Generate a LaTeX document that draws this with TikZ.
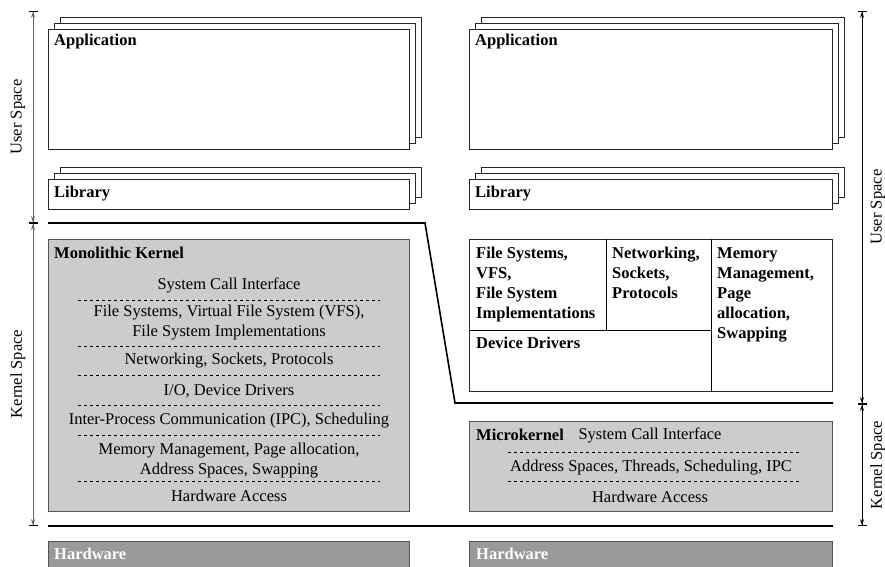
\documentclass[tikz,border=0pt]{standalone}
\usepackage{fontspec}
\setmainfont{Liberation Serif}
\usetikzlibrary{positioning,arrows.meta}
\definecolor{kernelgray}{HTML}{CCCCCC}
\definecolor{hwgray}{HTML}{9A9A9A}
\definecolor{framegray}{HTML}{555555}
\begin{document}
\begin{tikzpicture}[
    x=1pt, y=-1pt,
    font=\fontsize{16.5}{20}\selectfont,
    stackbox/.style={draw=black!85, fill=white, line width=0.8pt},
    kernelbox/.style={draw=framegray, fill=kernelgray, line width=0.8pt},
    hwbox/.style={draw=framegray, fill=hwgray, line width=0.8pt},
    title/.style={font=\fontsize{16.5}{20}\selectfont\bfseries, inner sep=0pt},
    layer/.style={align=center, inner sep=0pt},
    sep/.style={dashed, line width=0.6pt},
    barrier/.style={line width=1.6pt},
    span/.style={{Bar[width=9pt,black]Stealth[length=6pt,width=4pt]}-{Stealth[length=6pt,width=4pt]Bar[width=9pt,black]}, line width=0.8pt},
    spanlabel/.style={rotate=90, inner sep=0pt}
    ]
\useasboundingbox (0,0) rectangle (885,566);
%
% user space stacks
\foreach \x/\w/\n in {48/361/L, 469/363/R} {
  \foreach \d in {12,6,0} {
    \draw[stackbox] (\x+\d,29-\d) rectangle (\x+\w+\d,149-\d);
    \draw[stackbox] (\x+\d,179-\d) rectangle (\x+\w+\d,209-\d);
  }
  \node[title, anchor=west] (app\n) at (\x+6,42) {Application};
  \node[title, anchor=west] (lib\n) at (\x+6,194) {Library};
}
%
% monolithic kernel
\draw[kernelbox] (48,239) rectangle (409,511);
\node[title, anchor=west] (mono) at (54,253) {Monolithic Kernel};
\node[layer] (sciL) at (229,285) {System Call Interface};
\node[layer] (fsL)  at (229,323) {File Systems, Virtual File System (VFS),\\File System Implementations};
\node[layer] (netL) at (229,361) {Networking, Sockets, Protocols};
\node[layer] (ioL)  at (229,391) {I/O, Device Drivers};
\node[layer] (ipcL) at (229,421) {Inter-Process Communication (IPC), Scheduling};
\node[layer] (memL) at (229,461) {Memory Management, Page allocation,\\Address Spaces, Swapping};
\node[layer] (hwaL) at (229,496) {Hardware Access};
\foreach \y in {300,346,375,405,435,481}
  \draw[sep] (78,\y) -- (380,\y);
%
% servers in user space
\draw[stackbox] (469,239) rectangle (832,391);
\draw[line width=0.8pt] (606,239) -- (606,330) (469,330) -- (711,330) (711,239) -- (711,391);
\node[title, anchor=north west, align=left] (fsR)  at (476,247) {File Systems,\\VFS,\\File System\\Implementations};
\node[title, anchor=north west, align=left] (netR) at (612,247) {Networking,\\Sockets,\\Protocols};
\node[title, anchor=north west, align=left] (memR) at (717,247) {Memory\\Management,\\Page\\allocation,\\Swapping};
\node[title, anchor=west] (devR) at (476,343) {Device Drivers};
%
% microkernel
\draw[kernelbox] (469,421) rectangle (832,511);
\node[title, anchor=west] (micro) at (476,435) {Microkernel};
\node[layer] (sciR) at (650,435) {System Call Interface};
\node[layer] (ipcR) at (651,468) {Address Spaces, Threads, Scheduling, IPC};
\node[layer] (hwaR) at (650,497) {Hardware Access};
\foreach \y in {452,481}
  \draw[sep] (508,\y) -- (802,\y);
%
% boundaries and hardware
\draw[barrier] (48,223) -- (425,223) -- (455,403) -- (833,403);
\draw[barrier] (48,526) -- (833,526);
\draw[hwbox] (48,541) rectangle (409,572);
\draw[hwbox] (469,541) rectangle (832,572);
\node[title, anchor=west, text=white] (hwL) at (54,554) {Hardware};
\node[title, anchor=west, text=white] (hwR) at (476,554) {Hardware};
%
% extents
\coordinate (topL) at (33,11);
\coordinate (midL) at (33,223);
\coordinate (botL) at (33,526);
\coordinate (topR) at (862,11);
\coordinate (midR) at (862,404);
\coordinate (botR) at (862,526);
\draw[span, black!60] (topL) -- (midL);
\draw[span, black!60] (midL) -- (botL);
\draw[span] (topR) -- (midR);
\draw[span] (midR) -- (botR);
\node[spanlabel] (userL)   at (18,117) {User Space};
\node[spanlabel] (kernelL) at (18,374) {Kernel Space};
\node[spanlabel] (userR)   at (878,207) {User Space};
\node[spanlabel] (kernelR) at (878,465) {Kernel Space};
\end{tikzpicture}
\end{document}
